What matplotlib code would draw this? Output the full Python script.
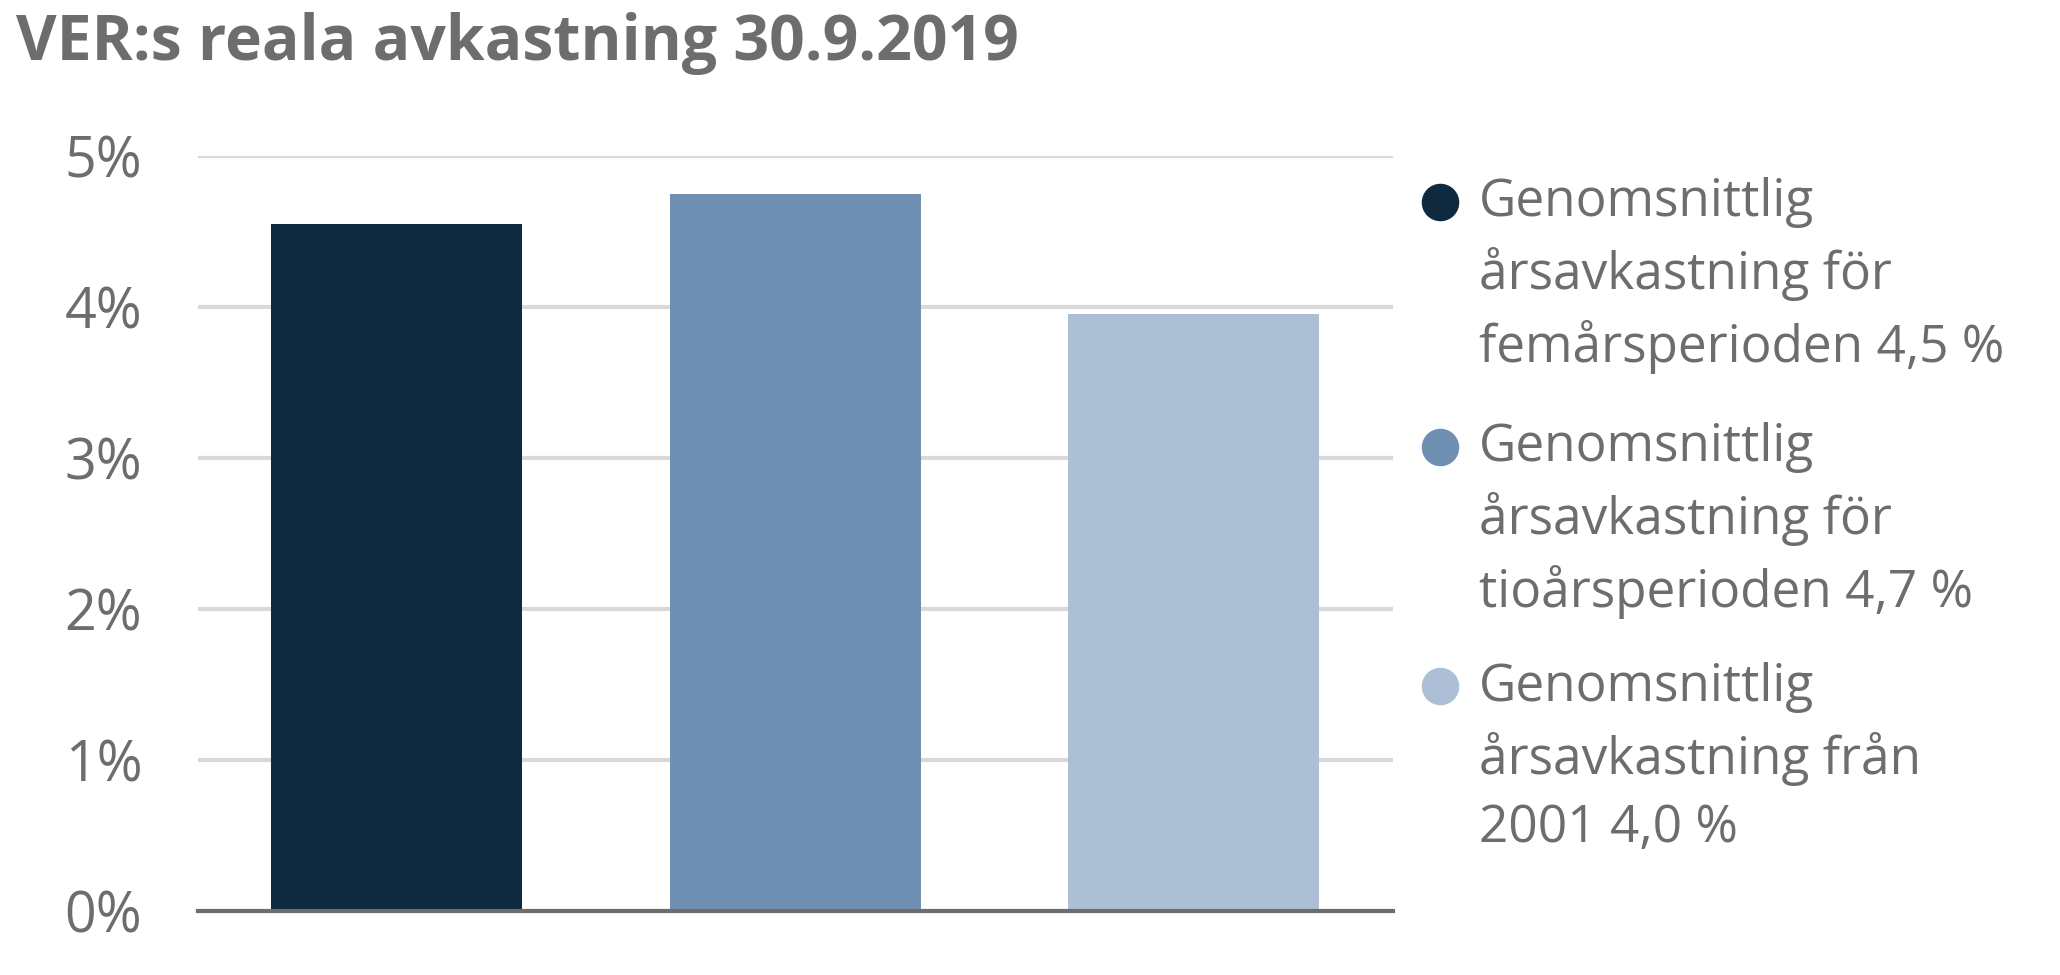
import matplotlib.pyplot as plt
from matplotlib.lines import Line2D

plt.rcParams['font.family'] = ['Open Sans', 'DejaVu Sans']

labels = ["Genomsnittlig\nårsavkastning för\nfemårsperioden 4,5 %",
          "Genomsnittlig\nårsavkastning för\ntioårsperioden 4,7 %",
          "Genomsnittlig\nårsavkastning från\n2001 4,0 %"]
values = [4.55, 4.75, 3.95]
colors = ["#0f2a3f", "#7090b3", "#adbfd4"]
yticks = [0, 1, 2, 3, 4, 5]
gray = "#6d6d6d"

fig = plt.figure(figsize=(20.6, 9.75), dpi=100)
ax = fig.add_axes([0.096, 0.066, 0.58, 0.774])
ax.bar(range(len(values)), values, width=0.63, color=colors, zorder=3)
ax.set_xlim(-0.5, 2.5)
ax.set_ylim(0, 5)
ax.set_yticks(yticks)
ax.set_yticklabels([f"{t}%" for t in yticks], fontsize=40, color=gray)
ax.set_xticks([])
ax.grid(axis='y', color="#d9d9d9", linewidth=3, zorder=0)
for s in ['top', 'right', 'left']:
    ax.spines[s].set_visible(False)
ax.spines['bottom'].set_color(gray)
ax.spines['bottom'].set_linewidth(3)
ax.spines['bottom'].set_zorder(4)
ax.tick_params(axis='y', length=0, pad=40)

fig.text(0.008, 0.955, "VER:s reala avkastning 30.9.2019", fontsize=45,
         fontweight='bold', color=gray, va='center')

# legend drawn by hand: marker next to the first line of each entry
leg_y = [0.79, 0.539, 0.293]
for lab, c, y in zip(labels, colors, leg_y):
    fig.add_artist(Line2D([0.699], [y + 0.003], marker='o', markersize=26, color=c,
                          linestyle='', transform=fig.transFigure))
    fig.text(0.718, y + 0.028, lab, fontsize=37, color=gray, va='top',
             linespacing=1.45)

fig.savefig("out.png")
